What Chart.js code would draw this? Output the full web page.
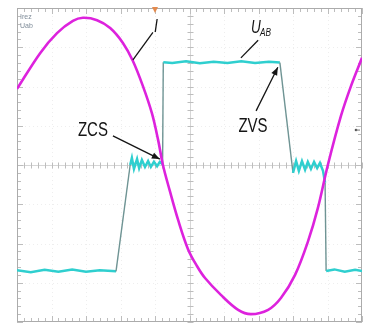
<!DOCTYPE html>
<html>
<head>
<meta charset="utf-8">
<script src="https://cdn.jsdelivr.net/npm/chart.js@4.4.1/dist/chart.umd.min.js"></script>
<style>
    html, body { margin: 0; padding: 0; background: #ffffff; }
    #wrap { width: 376px; height: 324px; position: relative; }
</style>
</head>
<body>
<div id="wrap"><canvas id="scope"></canvas></div>
<script>
// Resonant current (magenta), in screen divisions
const iTime = [0, 0.67, 1.16, 1.62, 1.91, 2.32, 2.70, 3.07, 3.36, 3.65, 3.91, 4.09, 4.23,
    4.43, 4.67, 4.96, 5.22, 5.45, 5.91, 6.41, 6.78, 7.28, 7.65, 8.06, 8.43, 8.72, 9.01,
    9.39, 9.68, 10];
const iValues = [1.94, 2.85, 3.36, 3.67, 3.75, 3.69, 3.49, 3.11, 2.65, 2.01, 1.32, 0.64, 0,
    -0.66, -1.40, -2.15, -2.58, -2.88, -3.31, -3.69, -3.80, -3.69, -3.39, -2.80, -1.96, -1.10, 0,
    1.25, 2.01, 2.73];

// Bridge voltage U_AB (cyan), in screen divisions
const uTime = [0, 0.4, 0.8, 1.2, 1.6, 2.0, 2.4, 2.87,
    3.28, 3.33, 3.39, 3.48, 3.54, 3.62, 3.71, 3.80, 3.88, 3.97, 4.06, 4.14, 4.22,
    4.24, 4.5, 4.9, 5.3, 5.7, 6.1, 6.5, 6.9, 7.3, 7.62,
    8.00, 8.09, 8.17, 8.26, 8.35, 8.43, 8.52, 8.61, 8.70, 8.78, 8.87, 8.93,
    8.96, 9.2, 9.5, 9.8, 10];
const uValues = [-2.68, -2.73, -2.67, -2.72, -2.66, -2.72, -2.68, -2.71,
    0, 0.18, -0.10, 0.15, -0.08, 0.13, -0.05, 0.10, -0.05, 0.08, -0.03, 0.08, 0.02,
    2.62, 2.60, 2.64, 2.59, 2.63, 2.60, 2.64, 2.60, 2.63, 2.61,
    -0.20, 0.10, -0.15, 0.10, -0.12, 0.08, -0.10, 0.08, -0.08, 0.05, -0.15, -0.45,
    -2.70, -2.66, -2.72, -2.67, -2.70];

const xDivs = 10;
const yDivs = 8;

function toPoints(xs, ys) {
    return xs.map((v, i) => ({ x: v, y: ys[i] }));
}

// oscilloscope graticule behind the traces
const graticule = {
    id: 'graticule',
    beforeDatasetsDraw(chart) {
        const { ctx, chartArea: a, scales: { x, y } } = chart;
        const line = (x0, y0, x1, y1) => {
            ctx.beginPath(); ctx.moveTo(x0, y0); ctx.lineTo(x1, y1); ctx.stroke();
        };
        ctx.save();
        ctx.lineWidth = 1;

        // faint dotted divisions
        ctx.strokeStyle = '#eeeeee';
        ctx.setLineDash([1, 3]);
        for (let i = 1; i < xDivs; i++) {
            const px = Math.round(x.getPixelForValue(i)) + 0.5;
            line(px, a.top, px, a.bottom);
        }
        for (let j = -yDivs / 2 + 1; j < yDivs / 2; j++) {
            const py = Math.round(y.getPixelForValue(j)) + 0.5;
            line(a.left, py, a.right, py);
        }
        ctx.setLineDash([]);

        // centre cross
        const cx = Math.round(x.getPixelForValue(xDivs / 2)) + 0.5;
        const cy = Math.round(y.getPixelForValue(0)) + 0.5;
        ctx.strokeStyle = '#d6d6d6';
        line(a.left, cy, a.right, cy);
        line(cx, a.top, cx, a.bottom);

        // minor ticks
        ctx.strokeStyle = '#bdbdbd';
        for (let k = 0; k <= xDivs * 5; k++) {
            const px = Math.round(x.getPixelForValue(k / 5)) + 0.5;
            const len = k % 5 === 0 ? 6 : 4;
            line(px, a.top, px, a.top + len);
            line(px, a.bottom - len, px, a.bottom);
            line(px, cy - 3, px, cy + 3);
        }
        for (let k = 0; k <= yDivs * 5; k++) {
            const py = Math.round(y.getPixelForValue(-yDivs / 2 + k / 5)) + 0.5;
            const len = k % 5 === 0 ? 6 : 4;
            line(a.left, py, a.left + len, py);
            line(a.right - len, py, a.right, py);
            line(cx - 3, py, cx + 3, py);
        }

        // frame
        ctx.strokeStyle = '#ababab';
        ctx.strokeRect(a.left + 0.5, a.top + 0.5, a.width - 1, a.height - 1);

        // channel labels, top left
        ctx.fillStyle = '#7f8c99';
        ctx.font = '7px "Liberation Sans"';
        ctx.textBaseline = 'alphabetic';
        ctx.fillText('Irez', a.left + 3, a.top + 11);
        ctx.fillText('Uab', a.left + 3, a.top + 20);

        // trigger marker at top
        const tx = x.getPixelForValue(4.0);
        ctx.fillStyle = '#e38a4e';
        ctx.beginPath();
        ctx.moveTo(tx - 3, a.top - 1);
        ctx.lineTo(tx + 3, a.top - 1);
        ctx.lineTo(tx, a.top + 5);
        ctx.closePath();
        ctx.fill();

        // level marker on the right
        const ly = y.getPixelForValue(0.89);
        ctx.fillStyle = '#555';
        ctx.beginPath();
        ctx.arc(a.right - 6, ly, 1.3, 0, Math.PI * 2);
        ctx.fill();
        ctx.strokeStyle = '#777';
        line(a.right - 6, ly, a.right - 2, ly);
        ctx.restore();
    }
};

// text labels and arrows on top of the traces
const labels = {
    id: 'labels',
    afterDatasetsDraw(chart) {
        const { ctx, scales: { x, y } } = chart;
        const P = (dx, dy) => [x.getPixelForValue(dx), y.getPixelForValue(dy)];
        const squeezed = (str, font, px, py, align) => {
            ctx.save();
            ctx.translate(px, py);
            ctx.scale(0.75, 1);
            ctx.font = font;
            ctx.textAlign = align || 'center';
            ctx.fillText(str, 0, 0);
            ctx.restore();
        };
        const arrow = (from, to, head) => {
            ctx.beginPath(); ctx.moveTo(from[0], from[1]); ctx.lineTo(to[0], to[1]); ctx.stroke();
            if (!head) return;
            const ang = Math.atan2(to[1] - from[1], to[0] - from[0]);
            ctx.beginPath();
            ctx.moveTo(to[0], to[1]);
            ctx.lineTo(to[0] - 8 * Math.cos(ang) + 3.2 * Math.sin(ang), to[1] - 8 * Math.sin(ang) - 3.2 * Math.cos(ang));
            ctx.lineTo(to[0] - 8 * Math.cos(ang) - 3.2 * Math.sin(ang), to[1] - 8 * Math.sin(ang) + 3.2 * Math.cos(ang));
            ctx.closePath();
            ctx.fill();
        };

        ctx.save();
        ctx.fillStyle = '#151515';
        ctx.strokeStyle = '#151515';
        ctx.lineWidth = 1.3;
        ctx.textBaseline = 'middle';

        // ZCS
        let p = P(2.20, 0.87);
        squeezed('ZCS', '20px "Liberation Sans"', p[0], p[1]);
        arrow(P(2.78, 0.74), P(4.14, 0.15), true);

        // ZVS
        p = P(6.84, 0.97);
        squeezed('ZVS', '20px "Liberation Sans"', p[0], p[1]);
        arrow(P(6.93, 1.38), P(7.56, 2.49), true);

        // I
        ctx.textBaseline = 'alphabetic';
        p = P(3.97, 3.40);
        squeezed('I', 'italic 19px "Liberation Sans"', p[0], p[1], 'left');
        arrow(P(3.94, 3.38), P(3.36, 2.68), false);

        // U_AB
        p = P(6.78, 3.36);
        squeezed('U', 'italic 18px "Liberation Sans"', p[0], p[1], 'left');
        squeezed('AB', 'italic 11px "Liberation Sans"', p[0] + 9, p[1] + 3, 'left');
        arrow(P(6.99, 3.18), P(6.49, 2.73), false);
        ctx.restore();
    }
};

new Chart(document.getElementById('scope'), {
    type: 'line',
    data: {
        datasets: [
            {
                label: 'Ires',
                data: toPoints(iTime, iValues),
                borderColor: '#dd22dd',
                borderWidth: 2.6,
                pointRadius: 0,
                tension: 0.35,
                order: 1
            },
            {
                label: 'Uab',
                data: toPoints(uTime, uValues),
                borderColor: '#2fcfcf',
                borderWidth: 2.5,
                pointRadius: 0,
                tension: 0,
                order: 2,
                segment: {
                    borderColor: c => Math.abs(c.p1.parsed.y - c.p0.parsed.y) > 1 ? '#6f9494' : undefined,
                    borderWidth: c => Math.abs(c.p1.parsed.y - c.p0.parsed.y) > 1 ? 1.4 : undefined
                }
            }
        ]
    },
    options: {
        responsive: true,
        maintainAspectRatio: false,
        animation: false,
        layout: { padding: { left: 17, right: 14, top: 8, bottom: 2 } },
        scales: {
            x: { type: 'linear', min: 0, max: xDivs, display: false },
            y: { type: 'linear', min: -yDivs / 2, max: yDivs / 2, display: false }
        },
        plugins: {
            legend: { display: false },
            tooltip: { enabled: false }
        }
    },
    plugins: [graticule, labels]
});
</script>
</body>
</html>
